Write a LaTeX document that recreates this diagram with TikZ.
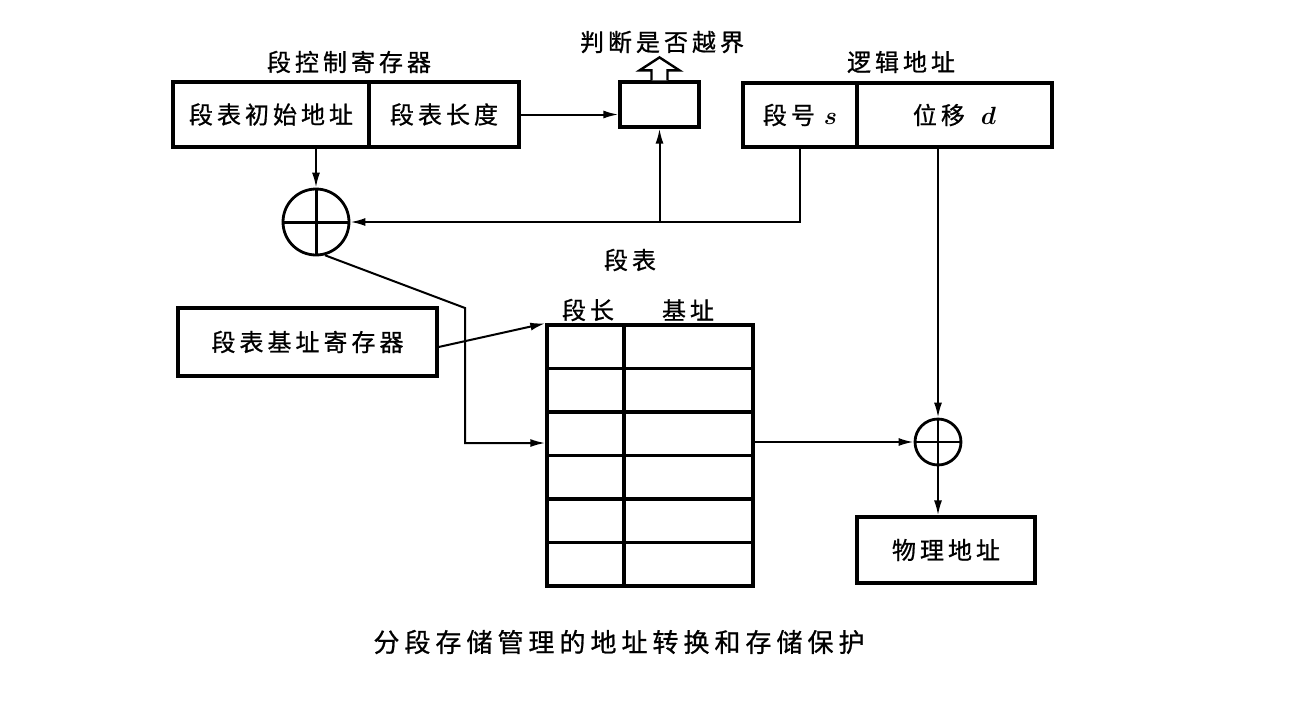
\documentclass[tikz,border=0pt]{standalone}
\usepackage{bm}
\usepackage{fontspec}
\usetikzlibrary{arrows.meta}
\newfontfamily\cjk{Noto Sans CJK SC}[FakeBold=0.8]
\newdimen\cjkgap
\cjkgap=4pt
\makeatletter
\def\sptext#1{\sp@a#1\relax}
\def\sp@a#1{\ifx\relax#1\unkern\else#1\kern\cjkgap\relax\expandafter\sp@a\fi}
\makeatother
\tikzset{
  lbl/.style={font=\cjk\fontsize{24}{24}\selectfont, inner sep=0pt},
  box/.style={draw, line width=3.2pt, inner sep=0pt, font=\cjk\fontsize{24}{24}\selectfont},
  cellbox/.style={draw, line width=3.4pt, inner sep=0pt, minimum height=43.5pt},
  adder/.style={draw, circle, line width=2.8pt, inner sep=0pt},
  conn/.style={line width=2pt, -{Latex[length=15pt,width=8pt]}},
  hollow/.style={line width=2.4pt, fill=white, line join=miter}
}
\begin{document}
\begin{tikzpicture}[x=1pt,y=-1pt]
\useasboundingbox[fill=white] (0,0) rectangle (1297,702);

% segment control register
\node[lbl] (ctltitle) at (349,62) {\sptext{段控制寄存器}};
\node[box, minimum width=196pt, minimum height=65pt] (init) at (271,114.5) {\sptext{段表初始地址}};
\node[box, minimum width=150pt, minimum height=65pt] (len) at (444,114.5) {\sptext{段表长度}};

% bound check box
\node[box, minimum width=79pt, minimum height=45pt] (chk) at (659.5,104.5) {};
\node[lbl] (chktitle) at (662,42) {\sptext{判断是否越界}};
\draw[hollow] ([xshift=-8pt]chk.north) -- ++(0,-10) -- ++(-12,0) -- ++(20,-13) -- ++(20,13) -- ++(-12,0) -- ++(0,10);

% logical address
\node[lbl] (logtitle) at (901,62) {\sptext{逻辑地址}};
\node[box, minimum width=114pt, minimum height=64pt] (seg) at (800,115) {\sptext{段号}\hspace{9pt}{\fontsize{25}{25}\selectfont$\bm{s}$}};
\node[box, minimum width=195pt, minimum height=64pt] (off) at (954.5,115) {\sptext{位移}\hspace{16pt}{\fontsize{25}{25}\selectfont$\bm{d}$}};

% adders
\node[adder, minimum size=66pt] (c1) at (316,222) {};
\draw[line width=3pt] (c1.north) -- (c1.south) (c1.west) -- (c1.east);
\node[adder, minimum size=46pt] (c2) at (938,442) {};
\draw[line width=2.6pt] (c2.north) -- (c2.south) (c2.west) -- (c2.east);

% segment table
\node[lbl] (tabtitle) at (630,260) {\sptext{段表}};
\node[lbl] (h1) at (588,310) {\sptext{段长}};
\node[lbl] (h2) at (688,310) {\sptext{基址}};
\foreach \r in {1,...,6} {
  \node[cellbox, minimum width=77pt] (t\r1) at (585.5,{346.75+(\r-1)*43.5}) {};
  \node[cellbox, minimum width=129pt] (t\r2) at (688.5,{346.75+(\r-1)*43.5}) {};
}

% base register
\node[box, minimum width=259pt, minimum height=68pt] (basereg) at (307.5,342) {\sptext{段表基址寄存器}};

% physical address
\node[box, minimum width=178pt, minimum height=66pt] (phys) at (946,550) {\sptext{物理地址}};

% caption
\node[lbl, font=\cjk\fontsize{26}{26}\selectfont] (caption) at (619,642) {\cjkgap=5pt\sptext{分段存储管理的地址转换和存储保护}};

% connectors
\coordinate (j1) at (465,308);
\coordinate (j2) at (465,443);
\draw[conn] (len.east) -- (len.east -| chk.west);
\draw[conn] (c1 |- init.south) -- (c1.north);
\draw[conn] (seg.south) -- (seg.south |- c1) -- (c1.east);
\draw[conn] (chk.south |- c1) -- (chk.south);
\draw[conn] (c1.-75) -- (j1) -- (j2) -- (j2 -| t31.west);
\draw[conn] ([yshift=-5pt]basereg.east) -- (t11.north west);
\draw[conn] (c2 |- off.south) -- (c2.north);
\draw[conn] (t32.east |- c2) -- (c2.west);
\draw[conn] (c2.south) -- (c2.south |- phys.north);
\end{tikzpicture}
\end{document}
